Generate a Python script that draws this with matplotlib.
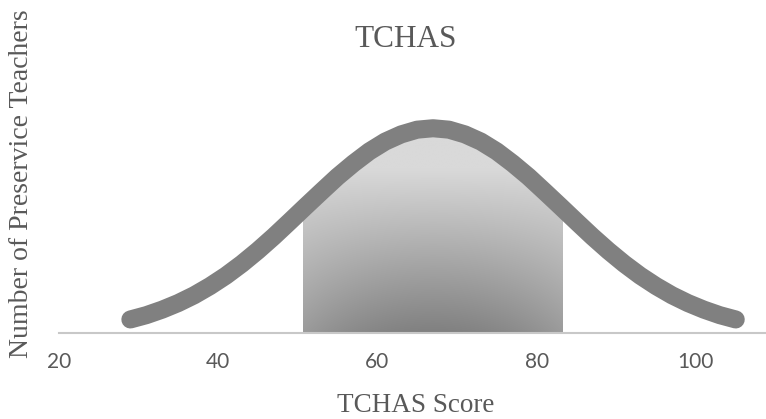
import numpy as np
import matplotlib
matplotlib.use("Agg")
import matplotlib.pyplot as plt
from matplotlib.patches import Polygon

# TCHAS score distribution (relative frequency, peak = 100)
scores = [29, 31, 33, 35, 37, 39, 41, 43, 45, 47, 49, 51, 53, 55, 57, 59, 61, 63, 65,
          67, 69, 71, 73, 75, 77, 79, 81, 83, 85, 87, 89, 91, 93, 95, 97, 99, 101, 103, 105]
frequency = [6.6, 8.7, 11.4, 14.6, 18.4, 22.9, 28.0, 33.8, 40.2, 47.1, 54.4, 61.8, 69.1,
             76.3, 82.8, 88.7, 93.5, 97.0, 99.3, 100.0, 99.3, 97.0, 93.5, 88.7, 82.8, 76.3,
             69.1, 61.8, 54.4, 47.1, 40.2, 33.8, 28.0, 22.9, 18.4, 14.6, 11.4, 8.7, 6.6]

# Shaded band: mean +/- one standard deviation
band_low = 50.7
band_high = 83.3

x_ticks = [20, 40, 60, 80, 100]
x_tick_labels = ["20", "40", "60", "80", "100"]

title = "TCHAS"
x_title = "TCHAS Score"
y_title = "Number of Preservice Teachers"

text_gray = "#595959"
line_gray = "#808080"

fig = plt.figure(figsize=(7.66, 4.19), dpi=100)
fig.patch.set_facecolor("white")
ax = fig.add_axes([0.0766, 0.2053, 0.9234, 0.5375])
ax.set_xlim(20, 108.8)
ax.set_ylim(0, 110)

# Gradient fill under the curve within the band
ny, nx = 200, 120
ty = np.clip(np.linspace(0, 1, ny) / 0.8, 0, 1)[:, None]
tx = np.abs(np.linspace(-1, 1, nx))[None, :]
t = 1 - (1 - ty) * (1 - 0.3 * tx ** 2)
dark, light = 0x80 / 255, 0xd9 / 255
shade = dark + (light - dark) * t
rgb = np.dstack([shade, shade, shade])
im = ax.imshow(rgb, extent=[band_low, band_high, 0, max(frequency)], origin="lower",
               aspect="auto", interpolation="bilinear", zorder=1)
outline = list(zip(scores, frequency)) + [(scores[-1], 0), (scores[0], 0)]
clip = Polygon(outline, closed=True, transform=ax.transData)
im.set_clip_path(clip)

ax.plot(scores, frequency, color=line_gray, linewidth=13, solid_capstyle="round",
        solid_joinstyle="round", zorder=3)

for side in ["top", "right", "left"]:
    ax.spines[side].set_visible(False)
ax.spines["bottom"].set_color("#c8c8c8")
ax.spines["bottom"].set_linewidth(1.5)
ax.set_yticks([])
ax.set_xticks(x_ticks)
ax.set_xticklabels(x_tick_labels, fontfamily="Lato", fontsize=15, color=text_gray)
ax.tick_params(axis="x", length=0, pad=14)

fig.text(406 / 766, 1 - 47 / 419, title, ha="center", va="baseline",
         fontfamily="Liberation Serif", fontsize=22.5, color=text_gray)
fig.text(416 / 766, 1 - 412 / 419, x_title, ha="center", va="baseline",
         fontfamily="Liberation Serif", fontsize=19.5, color=text_gray)
fig.text(22 / 766, 1 - 184 / 419, y_title, ha="center", va="center", rotation=90,
         fontfamily="Liberation Serif", fontsize=20, color=text_gray)

fig.savefig("out.png", dpi=100, facecolor="white")
